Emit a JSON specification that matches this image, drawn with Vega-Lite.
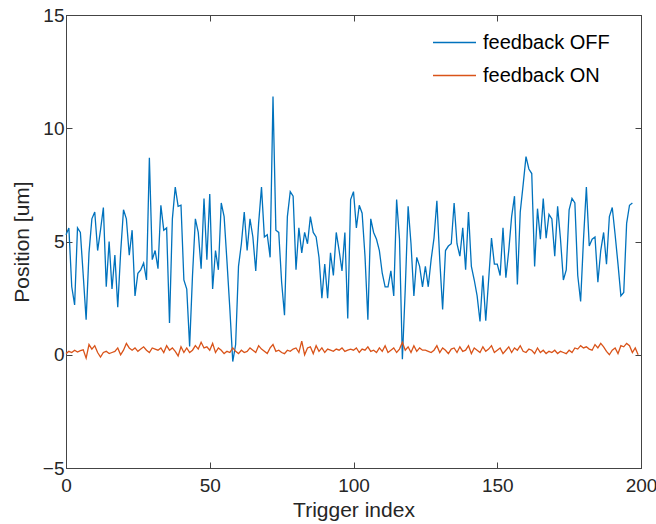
{
"$schema": "https://vega.github.io/schema/vega-lite/v6.json",
"width": 575, "height": 453,
"autosize": {"type": "none"},
"padding": {"left": 66, "top": 15, "right": 15, "bottom": 56},
"background": "white",
"config": {
  "font": "Liberation Sans",
  "view": {"stroke": "#444444", "strokeWidth": 1},
  "axis": {"grid": false, "domainColor": "#444444", "tickColor": "#444444", "labelColor": "#262626", "titleColor": "#262626", "labelFont": "Liberation Sans", "titleFont": "Liberation Sans", "labelFontSize": 19, "titleFontSize": 21, "titleFontWeight": "normal", "tickSize": -6, "labelFlush": false}
},
"datasets": {
"off": [
{"index":0,"position":5.3},{"index":1,"position":5.6},{"index":2,"position":3.0},{"index":3,"position":2.2},{"index":4,"position":5.6},{"index":5,"position":5.4},{"index":6,"position":3.5},{"index":7,"position":1.55},{"index":8,"position":4.5},{"index":9,"position":6.0},
{"index":10,"position":6.3},{"index":11,"position":4.6},{"index":12,"position":5.5},{"index":13,"position":6.5},{"index":14,"position":3.0},{"index":15,"position":5.0},{"index":16,"position":2.9},{"index":17,"position":4.4},{"index":18,"position":2.1},{"index":19,"position":4.5},
{"index":20,"position":6.4},{"index":21,"position":6.0},{"index":22,"position":4.4},{"index":23,"position":5.5},{"index":24,"position":2.6},{"index":25,"position":3.6},{"index":26,"position":3.75},{"index":27,"position":4.05},{"index":28,"position":3.3},{"index":29,"position":8.7},
{"index":30,"position":4.2},{"index":31,"position":4.6},{"index":32,"position":3.8},{"index":33,"position":6.6},{"index":34,"position":5.5},{"index":35,"position":5.6},{"index":36,"position":1.4},{"index":37,"position":6.0},{"index":38,"position":7.4},{"index":39,"position":6.55},
{"index":40,"position":6.6},{"index":41,"position":3.3},{"index":42,"position":2.9},{"index":43,"position":0.37},{"index":44,"position":3.5},{"index":45,"position":6.0},{"index":46,"position":5.4},{"index":47,"position":3.8},{"index":48,"position":6.9},{"index":49,"position":4.2},
{"index":50,"position":7.1},{"index":51,"position":2.9},{"index":52,"position":4.6},{"index":53,"position":3.75},{"index":54,"position":6.7},{"index":55,"position":6.1},{"index":56,"position":4.1},{"index":57,"position":2.0},{"index":58,"position":-0.3},{"index":59,"position":0.45},
{"index":60,"position":3.9},{"index":61,"position":4.9},{"index":62,"position":6.3},{"index":63,"position":4.6},{"index":64,"position":6.0},{"index":65,"position":5.2},{"index":66,"position":3.7},{"index":67,"position":5.8},{"index":68,"position":7.4},{"index":69,"position":5.2},
{"index":70,"position":5.3},{"index":71,"position":4.3},{"index":72,"position":11.4},{"index":73,"position":5.5},{"index":74,"position":5.4},{"index":75,"position":3.2},{"index":76,"position":1.75},{"index":77,"position":6.1},{"index":78,"position":7.2},{"index":79,"position":7.0},
{"index":80,"position":3.75},{"index":81,"position":5.6},{"index":82,"position":4.5},{"index":83,"position":5.4},{"index":84,"position":4.9},{"index":85,"position":6.1},{"index":86,"position":5.4},{"index":87,"position":5.2},{"index":88,"position":4.3},{"index":89,"position":2.5},
{"index":90,"position":4.0},{"index":91,"position":2.5},{"index":92,"position":4.5},{"index":93,"position":3.5},{"index":94,"position":5.4},{"index":95,"position":4.6},{"index":96,"position":3.7},{"index":97,"position":5.4},{"index":98,"position":1.6},{"index":99,"position":6.85},
{"index":100,"position":7.2},{"index":101,"position":5.6},{"index":102,"position":6.6},{"index":103,"position":6.25},{"index":104,"position":4.35},{"index":105,"position":1.55},{"index":106,"position":6.0},{"index":107,"position":5.4},{"index":108,"position":5.1},{"index":109,"position":4.6},
{"index":110,"position":3.6},{"index":111,"position":3.0},{"index":112,"position":3.0},{"index":113,"position":3.7},{"index":114,"position":2.6},{"index":115,"position":6.85},{"index":116,"position":5.1},{"index":117,"position":-0.2},{"index":118,"position":2.9},{"index":119,"position":6.55},
{"index":120,"position":4.9},{"index":121,"position":2.6},{"index":122,"position":4.3},{"index":123,"position":3.9},{"index":124,"position":3.0},{"index":125,"position":3.9},{"index":126,"position":3.0},{"index":127,"position":4.2},{"index":128,"position":5.15},{"index":129,"position":6.8},
{"index":130,"position":4.2},{"index":131,"position":2.0},{"index":132,"position":4.6},{"index":133,"position":4.8},{"index":134,"position":4.9},{"index":135,"position":6.7},{"index":136,"position":4.9},{"index":137,"position":4.35},{"index":138,"position":5.6},{"index":139,"position":3.75},
{"index":140,"position":6.3},{"index":141,"position":3.9},{"index":142,"position":3.3},{"index":143,"position":2.6},{"index":144,"position":1.47},{"index":145,"position":3.5},{"index":146,"position":1.5},{"index":147,"position":3.3},{"index":148,"position":5.15},{"index":149,"position":4.0},
{"index":150,"position":4.0},{"index":151,"position":3.5},{"index":152,"position":5.6},{"index":153,"position":3.4},{"index":154,"position":4.6},{"index":155,"position":6.1},{"index":156,"position":7.0},{"index":157,"position":3.1},{"index":158,"position":6.3},{"index":159,"position":7.5},
{"index":160,"position":8.75},{"index":161,"position":8.2},{"index":162,"position":8.0},{"index":163,"position":3.9},{"index":164,"position":6.45},{"index":165,"position":5.1},{"index":166,"position":6.9},{"index":167,"position":5.15},{"index":168,"position":6.2},{"index":169,"position":6.0},
{"index":170,"position":4.35},{"index":171,"position":6.55},{"index":172,"position":5.1},{"index":173,"position":3.3},{"index":174,"position":3.75},{"index":175,"position":6.4},{"index":176,"position":6.9},{"index":177,"position":6.7},{"index":178,"position":3.5},{"index":179,"position":2.35},
{"index":180,"position":5.1},{"index":181,"position":7.4},{"index":182,"position":4.8},{"index":183,"position":5.1},{"index":184,"position":5.2},{"index":185,"position":3.2},{"index":186,"position":4.6},{"index":187,"position":5.4},{"index":188,"position":4.0},{"index":189,"position":6.1},
{"index":190,"position":6.5},{"index":191,"position":5.3},{"index":192,"position":4.0},{"index":193,"position":2.6},{"index":194,"position":2.75},{"index":195,"position":5.8},{"index":196,"position":6.6},{"index":197,"position":6.7}
],
"on": [
{"index":0,"position":0.05},{"index":1,"position":0.15},{"index":2,"position":0.1},{"index":3,"position":0.2},{"index":4,"position":0.12},{"index":5,"position":0.18},{"index":6,"position":0.22},{"index":7,"position":-0.15},{"index":8,"position":0.45},{"index":9,"position":0.25},
{"index":10,"position":0.4},{"index":11,"position":0.1},{"index":12,"position":-0.1},{"index":13,"position":0.1},{"index":14,"position":0.15},{"index":15,"position":0.05},{"index":16,"position":0.1},{"index":17,"position":0.15},{"index":18,"position":0.3},{"index":19,"position":0.0},
{"index":20,"position":0.2},{"index":21,"position":0.5},{"index":22,"position":0.3},{"index":23,"position":0.2},{"index":24,"position":0.3},{"index":25,"position":0.15},{"index":26,"position":0.25},{"index":27,"position":0.35},{"index":28,"position":0.2},{"index":29,"position":0.1},
{"index":30,"position":0.3},{"index":31,"position":0.25},{"index":32,"position":0.2},{"index":33,"position":0.3},{"index":34,"position":0.1},{"index":35,"position":0.4},{"index":36,"position":0.2},{"index":37,"position":0.3},{"index":38,"position":0.15},{"index":39,"position":-0.05},
{"index":40,"position":0.35},{"index":41,"position":0.1},{"index":42,"position":0.3},{"index":43,"position":0.1},{"index":44,"position":0.2},{"index":45,"position":0.4},{"index":46,"position":0.25},{"index":47,"position":0.55},{"index":48,"position":0.3},{"index":49,"position":0.35},
{"index":50,"position":0.2},{"index":51,"position":0.5},{"index":52,"position":0.1},{"index":53,"position":0.3},{"index":54,"position":0.2},{"index":55,"position":0.05},{"index":56,"position":0.15},{"index":57,"position":0.1},{"index":58,"position":0.3},{"index":59,"position":0.15},
{"index":60,"position":0.05},{"index":61,"position":0.2},{"index":62,"position":0.1},{"index":63,"position":0.15},{"index":64,"position":0.3},{"index":65,"position":0.2},{"index":66,"position":0.1},{"index":67,"position":0.4},{"index":68,"position":0.25},{"index":69,"position":0.15},
{"index":70,"position":0.05},{"index":71,"position":0.3},{"index":72,"position":0.45},{"index":73,"position":0.15},{"index":74,"position":0.2},{"index":75,"position":0.1},{"index":76,"position":0.05},{"index":77,"position":0.2},{"index":78,"position":0.15},{"index":79,"position":0.25},
{"index":80,"position":0.3},{"index":81,"position":0.1},{"index":82,"position":0.6},{"index":83,"position":0.0},{"index":84,"position":0.3},{"index":85,"position":0.35},{"index":86,"position":0.05},{"index":87,"position":0.4},{"index":88,"position":0.15},{"index":89,"position":0.3},
{"index":90,"position":0.1},{"index":91,"position":0.25},{"index":92,"position":0.2},{"index":93,"position":0.15},{"index":94,"position":0.25},{"index":95,"position":0.2},{"index":96,"position":0.3},{"index":97,"position":0.15},{"index":98,"position":0.2},{"index":99,"position":0.25},
{"index":100,"position":0.2},{"index":101,"position":0.3},{"index":102,"position":0.1},{"index":103,"position":0.25},{"index":104,"position":0.2},{"index":105,"position":0.35},{"index":106,"position":0.15},{"index":107,"position":0.2},{"index":108,"position":0.1},{"index":109,"position":0.3},
{"index":110,"position":0.15},{"index":111,"position":0.4},{"index":112,"position":0.1},{"index":113,"position":0.2},{"index":114,"position":0.3},{"index":115,"position":0.1},{"index":116,"position":0.25},{"index":117,"position":0.55},{"index":118,"position":0.2},{"index":119,"position":0.35},
{"index":120,"position":0.1},{"index":121,"position":0.4},{"index":122,"position":0.15},{"index":123,"position":0.3},{"index":124,"position":0.2},{"index":125,"position":0.2},{"index":126,"position":0.15},{"index":127,"position":0.1},{"index":128,"position":0.2},{"index":129,"position":0.4},
{"index":130,"position":0.1},{"index":131,"position":0.3},{"index":132,"position":0.2},{"index":133,"position":0.05},{"index":134,"position":0.25},{"index":135,"position":0.3},{"index":136,"position":0.1},{"index":137,"position":0.35},{"index":138,"position":0.15},{"index":139,"position":0.2},
{"index":140,"position":0.4},{"index":141,"position":0.05},{"index":142,"position":0.3},{"index":143,"position":0.2},{"index":144,"position":0.1},{"index":145,"position":0.35},{"index":146,"position":0.15},{"index":147,"position":0.25},{"index":148,"position":0.4},{"index":149,"position":0.1},
{"index":150,"position":0.2},{"index":151,"position":0.3},{"index":152,"position":0.05},{"index":153,"position":0.2},{"index":154,"position":0.35},{"index":155,"position":0.1},{"index":156,"position":0.3},{"index":157,"position":0.2},{"index":158,"position":0.4},{"index":159,"position":0.15},
{"index":160,"position":0.1},{"index":161,"position":0.25},{"index":162,"position":0.2},{"index":163,"position":0.05},{"index":164,"position":0.3},{"index":165,"position":0.1},{"index":166,"position":0.2},{"index":167,"position":0.05},{"index":168,"position":0.15},{"index":169,"position":0.1},
{"index":170,"position":0.2},{"index":171,"position":0.05},{"index":172,"position":0.15},{"index":173,"position":0.1},{"index":174,"position":0.05},{"index":175,"position":0.2},{"index":176,"position":0.1},{"index":177,"position":0.3},{"index":178,"position":0.25},{"index":179,"position":0.4},
{"index":180,"position":0.3},{"index":181,"position":0.35},{"index":182,"position":0.25},{"index":183,"position":0.2},{"index":184,"position":0.45},{"index":185,"position":0.3},{"index":186,"position":0.5},{"index":187,"position":0.35},{"index":188,"position":0.15},{"index":189,"position":0.0},
{"index":190,"position":0.2},{"index":191,"position":0.3},{"index":192,"position":0.05},{"index":193,"position":0.4},{"index":194,"position":0.35},{"index":195,"position":0.5},{"index":196,"position":0.4},{"index":197,"position":0.1},{"index":198,"position":0.3},{"index":199,"position":0.0}
]
},
"layer": [
  {
    "data": {"name": "off"},
    "mark": {"type": "line", "strokeWidth": 1.3, "color": "#0072BD"},
    "encoding": {
      "x": {"field": "index", "type": "quantitative", "scale": {"domain": [0, 200], "nice": false, "zero": false},
            "axis": {"orient": "bottom", "values": [0, 50, 100, 150, 200], "title": "Trigger index", "labelPadding": 14, "titlePadding": 4}},
      "y": {"field": "position", "type": "quantitative", "scale": {"domain": [-5, 15], "nice": false, "zero": false},
            "axis": {"orient": "left", "values": [-5, 0, 5, 10, 15], "title": "Position [um]", "labelPadding": 8, "titlePadding": 10}},
      "color": {"datum": "feedback OFF", "type": "nominal",
                "scale": {"domain": ["feedback OFF", "feedback ON"], "range": ["#0072BD", "#D95319"]},
                "legend": {"title": null, "orient": "none", "legendX": 366, "legendY": 5, "symbolType": "stroke", "symbolSize": 1849, "symbolStrokeWidth": 1.3, "labelFontSize": 20, "labelFont": "Liberation Sans", "labelColor": "#000000", "labelOffset": 6, "rowPadding": -3}}
    }
  },
  {
    "data": {"name": "on"},
    "mark": {"type": "line", "strokeWidth": 1.3, "color": "#D95319"},
    "encoding": {
      "x": {"field": "index", "type": "quantitative",
            "axis": {"orient": "top", "values": [0, 50, 100, 150, 200], "labels": false, "title": null}},
      "y": {"field": "position", "type": "quantitative",
            "axis": {"orient": "right", "values": [-5, 0, 5, 10, 15], "labels": false, "title": null}},
      "color": {"datum": "feedback ON", "type": "nominal"}
    }
  }
],
"resolve": {"axis": {"x": "independent", "y": "independent"}}
}
